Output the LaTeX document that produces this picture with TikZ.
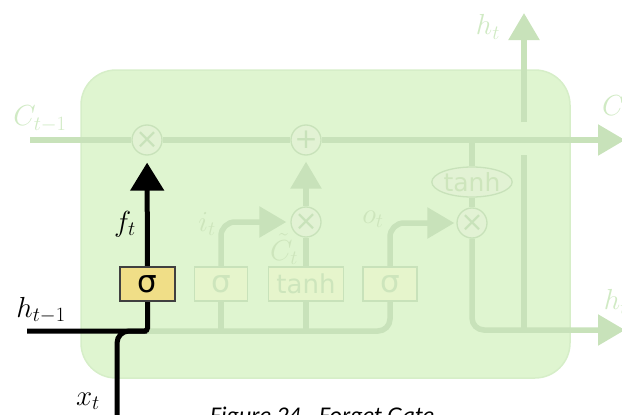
\RequirePackage{fix-cm}
\documentclass[tikz,border=0pt]{standalone}
\usepackage{fontspec}
\newfontfamily\capfont{Carlito}
\newfontfamily\gatefont{DejaVu Sans}
\usetikzlibrary{arrows.meta,shapes.geometric}

\definecolor{cellfill}{RGB}{223,245,208}
\definecolor{celledge}{RGB}{214,238,200}
\definecolor{wirec}{RGB}{200,226,186}
\definecolor{opfill}{RGB}{226,242,212}
\definecolor{gatefill}{RGB}{230,245,204}
\definecolor{gatetext}{RGB}{205,229,188}
\definecolor{faint}{RGB}{208,234,196}
\definecolor{sigyellow}{RGB}{240,222,135}

\pgfdeclarelayer{bg}
\pgfdeclarelayer{wires}
\pgfsetlayers{bg,wires,main}

\begin{document}
\begin{tikzpicture}[x=1pt,y=-1pt,
  cellbox/.style={rectangle, draw=celledge, fill=cellfill, line width=1.5pt,
    rounded corners=35pt, minimum width=489pt, minimum height=308pt},
  wire/.style={draw=wirec, line width=5.5pt},
  bwire/.style={draw=black, line width=5pt},
  gtip/.style={-{Triangle[width=30pt,length=27pt]}},
  btip/.style={-{Triangle[width=33pt,length=28pt]}},
  op/.style={circle, draw=wirec, fill=opfill, line width=1.3pt, minimum size=30pt,
    inner sep=0pt, text=wirec, font=\gatefont\fontsize{28}{28}\selectfont},
  gate/.style={rectangle, draw=wirec, fill=gatefill, line width=1.3pt,
    minimum height=34pt, inner sep=0pt, text=gatetext,
    font=\gatefont\fontsize{26}{26}\selectfont},
  siglabel/.style={font=\gatefont\fontsize{31}{31}\selectfont},
  oval/.style={ellipse, draw=wirec, fill=opfill, line width=1.3pt,
    minimum width=74pt, minimum height=30pt, inner sep=0pt, text=gatetext,
    font=\gatefont\fontsize{25}{25}\selectfont},
  mlabel/.style={inner sep=0pt, font=\fontsize{29}{29}\selectfont},
  faintlabel/.style={mlabel, text=faint},
  innerlabel/.style={mlabel, text=gatetext}
]
\useasboundingbox (0,0) rectangle (622,415);

% the cell body
\begin{pgfonlayer}{bg}
  \node[cellbox] (cell) at (325.5,224) {};
\end{pgfonlayer}

% pointwise operations
\node[op] (mulF) at (147,140) {×};
\node[op] (add)  at (306,140) {+};
\node[op] (mulI) at (306,222) {×};
\node[op] (mulO) at (472,223) {×};
\node[oval] (tanhC) at (472,182) {tanh};

% gate layers
\node[gate, siglabel, fill=sigyellow, draw=black!75, text=black, minimum width=55pt] (sigF) at (147.5,284) {σ};
\node[gate, siglabel, minimum width=53pt] (sigI)  at (221,284) {σ};
\node[gate, minimum width=75pt] (tanhG) at (306,284) {tanh};
\node[gate, siglabel, minimum width=54pt] (sigO)  at (390,284) {σ};

% free ends of the connectors
\coordinate (cin)   at (30,140);
\coordinate (cout)  at (625,140);
\coordinate (hin)   at (27,331);
\coordinate (xin)   at (117,425);
\coordinate (hout)  at (625,330);
\coordinate (bus)   at (147,331);
\coordinate (hsplit) at (524,330);
\coordinate (hgapL) at (524,155);
\coordinate (hgapU) at (524,122);
\coordinate (htop)  at (524,13);

\begin{pgfonlayer}{wires}
  % cell state
  \draw[wire] (cin) -- (mulF) -- (add);
  \draw[wire, gtip] (add) -- (cout);
  \draw[wire] (tanhC.north |- add) -- (tanhC);
  \draw[wire] (tanhC) -- (mulO);
  % hidden state out
  \draw[wire, gtip, rounded corners=12pt] (mulO) |- (hout);
  \draw[wire] (hsplit) -- (hgapL);
  \draw[wire, gtip] (hgapU) -- (htop);
  % shared input bus
  \draw[wire, rounded corners=12pt] (bus) -| (sigO);
  \draw[wire] (sigI.south |- bus) -- (sigI);
  \draw[wire] (tanhG.south |- bus) -- (tanhG);
  % input gate and candidate
  \draw[wire, gtip, rounded corners=14pt, shorten >=4pt] (sigI) |- (mulI);
  \draw[wire] (tanhG) -- (mulI);
  \draw[wire, gtip, shorten >=6pt] (mulI) -- (add);
  % output gate
  \draw[wire, gtip, rounded corners=14pt, shorten >=2pt] (sigO) |- (mulO);
  % forget gate path
  \draw[bwire, rounded corners=3pt] (hin) -| (sigF);
  \draw[bwire, rounded corners=12pt] (xin) |- (bus);
  \draw[bwire, btip, shorten >=7pt] (sigF) -- (mulF);
\end{pgfonlayer}

% labels
\node[faintlabel] (lCin)  at (40,119)  {$C_{t-1}$};
\node[faintlabel] (lCout) at (616,108) {$C_t$};
\node[faintlabel] (lhtop) at (488,27)  {$h_t$};
\node[faintlabel] (lhout) at (616,302) {$h_t$};
\node[innerlabel] (li)    at (207,224) {$i_t$};
\node[innerlabel] (lCt)   at (284,249) {$\tilde{C}_t$};
\node[innerlabel] (lo)    at (373,219) {$o_t$};
\node[mlabel] (lf)    at (125,224) {$f_t$};
\node[mlabel] (lhin)  at (41,310)  {$h_{t-1}$};
\node[mlabel] (lx)    at (88,401)  {$x_t$};

% caption
\node[inner sep=0pt, anchor=base west, font=\capfont\itshape\fontsize{24}{24}\selectfont]
  (caption) at (210,423) {Figure 24 - Forget Gate};
\end{tikzpicture}
\end{document}
